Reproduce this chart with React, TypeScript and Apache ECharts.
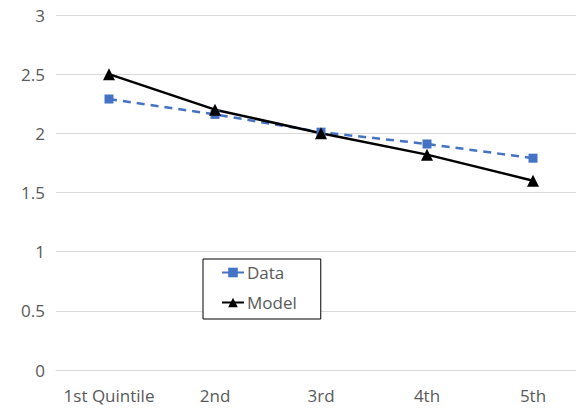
import React, { useEffect, useRef } from "react";
import * as echarts from "echarts";

const categories = ["1st Quintile", "2nd", "3rd", "4th", "5th"];
const dataValues = [2.29, 2.16, 2.01, 1.91, 1.79];
const modelValues = [2.5, 2.2, 2.0, 1.82, 1.6];
const yTicks = { min: 0, max: 3, interval: 0.5 };

export default function App() {
  const ref = useRef<HTMLDivElement>(null);
  useEffect(() => {
    document.body.style.margin = "0";
    const chart = echarts.init(ref.current!, null, { renderer: "svg" });
    const font = "'Open Sans', 'Noto Sans', sans-serif";
    chart.setOption({
      animation: false,
      backgroundColor: "#ffffff",
      grid: { left: 56, top: 15, right: 10, bottom: 39, containLabel: false },
      xAxis: {
        type: "category",
        data: categories,
        boundaryGap: true,
        axisLine: { show: true, lineStyle: { color: "#d9d9d9", width: 1 } },
        axisTick: { show: false },
        axisLabel: { color: "#595959", fontSize: 17, fontFamily: font, margin: 17, interval: 0 },
        splitLine: { show: false },
      },
      yAxis: {
        type: "value",
        min: yTicks.min,
        max: yTicks.max,
        interval: yTicks.interval,
        axisLine: { show: false },
        axisTick: { show: false },
        axisLabel: { color: "#595959", fontSize: 17, fontFamily: font, margin: 11 },
        splitLine: { lineStyle: { color: "#d9d9d9", width: 1 } },
      },
      legend: {
        orient: "vertical",
        left: 203,
        top: 259,
        padding: [5, 24, 8, 18],
        itemGap: 13,
        itemWidth: 22,
        itemHeight: 12,
        borderColor: "#000000",
        borderWidth: 1,
        backgroundColor: "#ffffff",
        textStyle: { color: "#595959", fontSize: 17, fontFamily: font, padding: [0, 0, 0, -2] },
        data: ["Data", "Model"],
      },
      series: [
        {
          name: "Data",
          type: "line",
          data: dataValues,
          symbol: "rect",
          symbolSize: 9,
          itemStyle: { color: "#4472C4" },
          lineStyle: { color: "#4472C4", width: 2.5, type: [8, 6] },
        },
        {
          name: "Model",
          type: "line",
          data: modelValues,
          symbol: "triangle",
          symbolSize: 12,
          itemStyle: { color: "#000000" },
          lineStyle: { color: "#000000", width: 2.5 },
        },
      ],
    });
    return () => chart.dispose();
  }, []);
  return (
    <div style={{ width: 576, height: 409, overflow: "hidden", position: "relative" }}>
      <div ref={ref} style={{ width: 596, height: 409 }} />
    </div>
  );
}
